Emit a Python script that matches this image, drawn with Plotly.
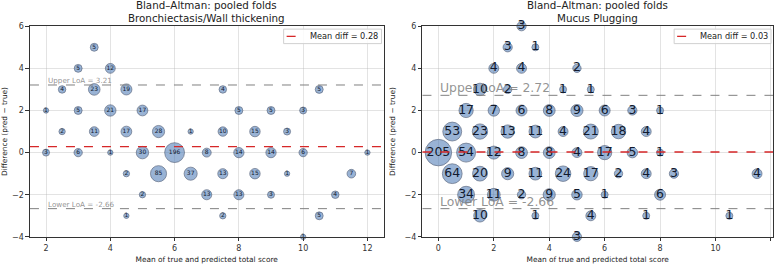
import numpy as np
import plotly.graph_objects as go

# ---- Data: Bronchiectasis/Wall thickening ----
bw_x = [3.5, 3.0, 4.0, 2.5, 3.5, 4.5, 7.5, 10.5,
        2.0, 3.0, 4.0, 5.0, 8.0, 9.0, 10.0,
        2.5, 3.5, 4.5, 5.5, 6.5, 7.5, 8.5, 9.5,
        2.0, 3.0, 4.0, 5.0, 6.0, 7.0, 8.0, 9.0, 10.0, 12.0,
        4.5, 5.5, 6.5, 7.5, 8.5, 9.5, 11.5,
        5.0, 7.0, 8.0, 9.0, 11.0,
        4.5, 7.5, 10.5,
        10.0]
bw_y = [5, 4, 4, 3, 3, 3, 3, 3,
        2, 2, 2, 2, 2, 2, 2,
        1, 1, 1, 1, 1, 1, 1, 1,
        0, 0, 0, 0, 0, 0, 0, 0, 0, 0,
        -1, -1, -1, -1, -1, -1, -1,
        -2, -2, -2, -2, -2,
        -3, -3, -3,
        -4]
bw_n = [5, 5, 12, 4, 23, 19, 4, 5,
        1, 5, 21, 17, 5, 5, 3,
        2, 11, 17, 28, 1, 10, 15, 3,
        3, 6, 1, 30, 196, 8, 14, 14, 6, 1,
        2, 85, 37, 13, 15, 1, 7,
        2, 13, 13, 3, 4,
        1, 2, 5,
        1]
bw_mean, bw_upper, bw_lower = 0.28, 3.21, -2.66

# ---- Data: Mucus Plugging ----
mp_x = [3.0,
        2.5, 3.5,
        2.0, 3.0, 5.0,
        1.5, 2.5, 4.5, 5.5,
        1.0, 2.0, 3.0, 4.0, 5.0, 6.0, 7.0, 8.0,
        0.5, 1.5, 2.5, 3.5, 4.5, 5.5, 6.5, 7.5,
        0.0, 1.0, 2.0, 3.0, 4.0, 5.0, 6.0, 7.0, 8.0,
        0.5, 1.5, 2.5, 3.5, 4.5, 5.5, 6.5, 7.5, 8.5, 11.5,
        1.0, 2.0, 3.0, 4.0, 5.0, 6.0, 8.0,
        1.5, 3.5, 5.5, 7.5, 10.5,
        5.0]
mp_y = [6,
        5, 5,
        4, 4, 4,
        3, 3, 3, 3,
        2, 2, 2, 2, 2, 2, 2, 2,
        1, 1, 1, 1, 1, 1, 1, 1,
        0, 0, 0, 0, 0, 0, 0, 0, 0,
        -1, -1, -1, -1, -1, -1, -1, -1, -1, -1,
        -2, -2, -2, -2, -2, -2, -2,
        -3, -3, -3, -3, -3,
        -4]
mp_n = [3,
        3, 1,
        4, 4, 2,
        10, 2, 1, 1,
        17, 7, 6, 8, 9, 6, 3, 1,
        53, 23, 13, 11, 4, 21, 18, 4,
        205, 54, 12, 8, 8, 4, 17, 5, 1,
        64, 20, 9, 11, 24, 17, 2, 4, 3, 4,
        34, 11, 2, 9, 5, 1, 6,
        10, 1, 4, 1, 1,
        3]
mp_mean, mp_upper, mp_lower = 0.03, 2.72, -2.66

titles = ["Bland–Altman: pooled folds<br>Bronchiectasis/Wall thickening",
          "Bland–Altman: pooled folds<br>Mucus Plugging"]
x_label = "Mean of true and predicted total score"
y_label = "Difference (pred − true)"

W, H = 776, 267
FONT = "DejaVu Sans"
fill = "rgba(70,118,180,0.78)"
edge = "#1f2f4f"
red = "#d62728"

fig = go.Figure()

panels = [
    dict(x=bw_x, y=bw_y, n=bw_n, mean=bw_mean, up=bw_upper, lo=bw_lower,
         xa="x", ya="y", xr=[1.5, 12.5], dom=[29, 383], k=5.3,
         tsize=6, lsize=7.2, lx=2.0, title=titles[0], leg=[283, 381]),
    dict(x=mp_x, y=mp_y, n=mp_n, mean=mp_mean, up=mp_upper, lo=mp_lower,
         xa="x2", ya="y2", xr=[-0.575, 12.075], dom=[422, 773], k=7.0,
         tsize=12.5, lsize=12.4, lx=0.0, title=titles[1], leg=[674, 771]),
]

ytop, ybot = 23, 241
ydom = [1 - ybot / H, 1 - ytop / H]


def px(v):
    return v / W


def py(v):
    return 1 - v / H


for i, p in enumerate(panels):
    n = np.array(p["n"], dtype=float)
    sizes = p["k"] * n ** 0.25
    fig.add_trace(go.Scatter(
        x=p["x"], y=p["y"], mode="markers+text",
        text=[str(v) for v in p["n"]], textposition="middle center",
        textfont=dict(family=FONT, size=p["tsize"], color="#111a2e"),
        marker=dict(size=sizes, color=fill, line=dict(color=edge, width=0.7)),
        xaxis=p["xa"], yaxis=p["ya"], showlegend=False, hoverinfo="skip",
        cliponaxis=False))
    # mean difference line
    fig.add_shape(type="line", xref=f"{p['xa']} domain", yref=p["ya"],
                  x0=0, x1=1, y0=p["mean"], y1=p["mean"],
                  line=dict(color=red, width=1.3, dash="dash"))
    for val, lab in [(p["up"], "Upper LoA"), (p["lo"], "Lower LoA")]:
        fig.add_shape(type="line", xref=f"{p['xa']} domain", yref=p["ya"],
                      x0=0, x1=1, y0=val, y1=val,
                      line=dict(color="#808080", width=1, dash="dash"))
        fig.add_annotation(x=p["lx"], y=val, xref=p["xa"], yref=p["ya"],
                           text=f"{lab} = {val:.2f}", showarrow=False,
                           xanchor="left", yanchor="bottom", yshift=-2,
                           font=dict(family=FONT, size=p["lsize"], color="rgba(128,128,128,0.85)"))
    cx = px((p["dom"][0] + p["dom"][1]) / 2)
    fig.add_annotation(x=cx, y=py(10.5), xref="paper", yref="paper",
                       text=p["title"], showarrow=False, xanchor="center", yanchor="middle",
                       yshift=3, borderpad=0,
                       font=dict(family=FONT, size=10.3, color="#222"))
    # legend box
    l0, l1 = p["leg"]
    fig.add_shape(type="rect", xref="paper", yref="paper",
                  x0=px(l0), x1=px(l1), y0=py(41), y1=py(26),
                  line=dict(color="#d0d0d0", width=1), fillcolor="rgba(255,255,255,0.85)",
                  layer="above")
    fig.add_shape(type="line", xref="paper", yref="paper",
                  x0=px(l0 + 3), x1=px(l0 + 21), y0=py(33.5), y1=py(33.5),
                  line=dict(color=red, width=1.3, dash="dash"), layer="above")
    fig.add_annotation(x=px(l0 + 25), y=py(33.5), xref="paper", yref="paper",
                       text=f"Mean diff = {p['mean']:.2f}", showarrow=False,
                       xanchor="left", yanchor="middle", borderpad=0,
                       font=dict(family=FONT, size=8.2, color="#222"))

axis_common = dict(showline=True, linecolor="#333", linewidth=1, mirror=True,
                   ticks="outside", ticklen=3.5, tickcolor="#333",
                   showgrid=True, gridcolor="rgba(176,176,176,0.35)", gridwidth=1,
                   zeroline=False, tickfont=dict(family=FONT, size=8, color="#333"))
title_font = dict(family=FONT, size=7.4, color="#222")

fig.update_layout(
    width=W, height=H, margin=dict(l=0, r=0, t=0, b=0),
    paper_bgcolor="white", plot_bgcolor="white",
    font=dict(family=FONT), showlegend=False,
    xaxis=dict(domain=[px(v) for v in panels[0]["dom"]], range=panels[0]["xr"], dtick=2, anchor="y",
               title=dict(text=x_label, font=title_font, standoff=4), **axis_common),
    yaxis=dict(domain=ydom, range=[-4, 6], dtick=2, anchor="x",
               title=dict(text=y_label, font=title_font, standoff=7), **axis_common),
    xaxis2=dict(domain=[px(v) for v in panels[1]["dom"]], range=panels[1]["xr"], dtick=2, anchor="y2",
                title=dict(text=x_label, font=title_font, standoff=4), **axis_common),
    yaxis2=dict(domain=ydom, range=[-4, 6], dtick=2, anchor="x2",
                title=dict(text=y_label, font=title_font, standoff=7), **axis_common),
)

fig.write_html("out.html")
